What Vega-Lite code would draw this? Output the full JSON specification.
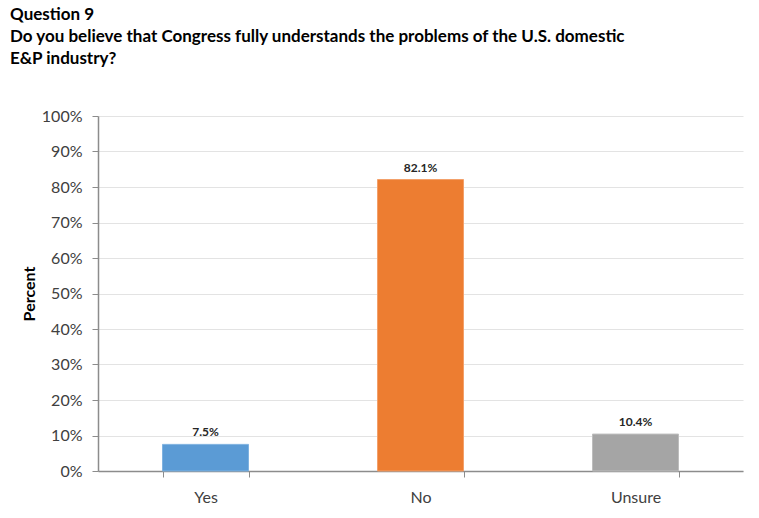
{
  "$schema": "https://vega.github.io/schema/vega-lite/v6.json",
  "autosize": "none",
  "width": 645,
  "height": 355,
  "padding": {"left": 98, "top": 116, "right": 16, "bottom": 47},
  "background": "white",
  "title": {
    "text": ["Question 9", "Do you believe that Congress fully understands the problems of the U.S. domestic", "E&P industry?"],
    "anchor": "start",
    "frame": "group",
    "dx": -88,
    "font": "Lato",
    "fontSize": 17,
    "fontWeight": "bold",
    "color": "#000000",
    "lineHeight": 22,
    "baseline": "top",
    "offset": 40
  },
  "config": {
    "view": {"stroke": null},
    "font": "Lato"
  },
  "data": {
    "values": [
      {"answer": "Yes", "pct": 7.5, "label": "7.5%"},
      {"answer": "No", "pct": 82.1, "label": "82.1%"},
      {"answer": "Unsure", "pct": 10.4, "label": "10.4%"}
    ]
  },
  "encoding": {
    "x": {
      "field": "answer",
      "type": "nominal",
      "sort": ["Yes", "No", "Unsure"],
      "scale": {"paddingInner": 0.6, "paddingOuter": 0.3},
      "axis": {
        "title": null,
        "labelAngle": 0,
        "labelFont": "Lato",
        "labelFontSize": 16,
        "labelColor": "#404040",
        "labelPadding": 12,
        "tickBand": "extent",
        "tickSize": 6,
        "tickColor": "#8c8c8c",
        "domainColor": "#8c8c8c",
        "domainWidth": 1.5,
        "grid": false
      }
    },
    "y": {
      "field": "pct",
      "type": "quantitative",
      "scale": {"domain": [0, 100], "nice": false},
      "axis": {
        "title": "Percent",
        "titleFont": "Lato",
        "titleFontSize": 16,
        "titleFontWeight": "bold",
        "titleColor": "#000000",
        "titlePadding": 4,
        "values": [0, 10, 20, 30, 40, 50, 60, 70, 80, 90, 100],
        "labelExpr": "datum.value + '%'",
        "labelFont": "Lato",
        "labelFontSize": 16,
        "labelColor": "#404040",
        "labelPadding": 10,
        "tickSize": 6,
        "tickColor": "#8c8c8c",
        "domainColor": "#8c8c8c",
        "domainWidth": 1.5,
        "gridColor": "#e3e3e3",
        "gridWidth": 1
      }
    }
  },
  "layer": [
    {
      "mark": {"type": "bar", "strokeWidth": 1},
      "encoding": {
        "color": {
          "field": "answer",
          "type": "nominal",
          "scale": {"domain": ["Yes", "No", "Unsure"], "range": ["#5B9BD5", "#ED7D31", "#A5A5A5"]},
          "legend": null
        },
        "stroke": {
          "field": "answer",
          "type": "nominal",
          "scale": {"domain": ["Yes", "No", "Unsure"], "range": ["#7fb2e0", "#f3a06a", "#bdbdbd"]},
          "legend": null
        }
      }
    },
    {
      "mark": {"type": "text", "dy": -12, "font": "Lato", "fontSize": 12, "fontWeight": "bold", "color": "#262626"},
      "encoding": {"text": {"field": "label"}}
    }
  ]
}
